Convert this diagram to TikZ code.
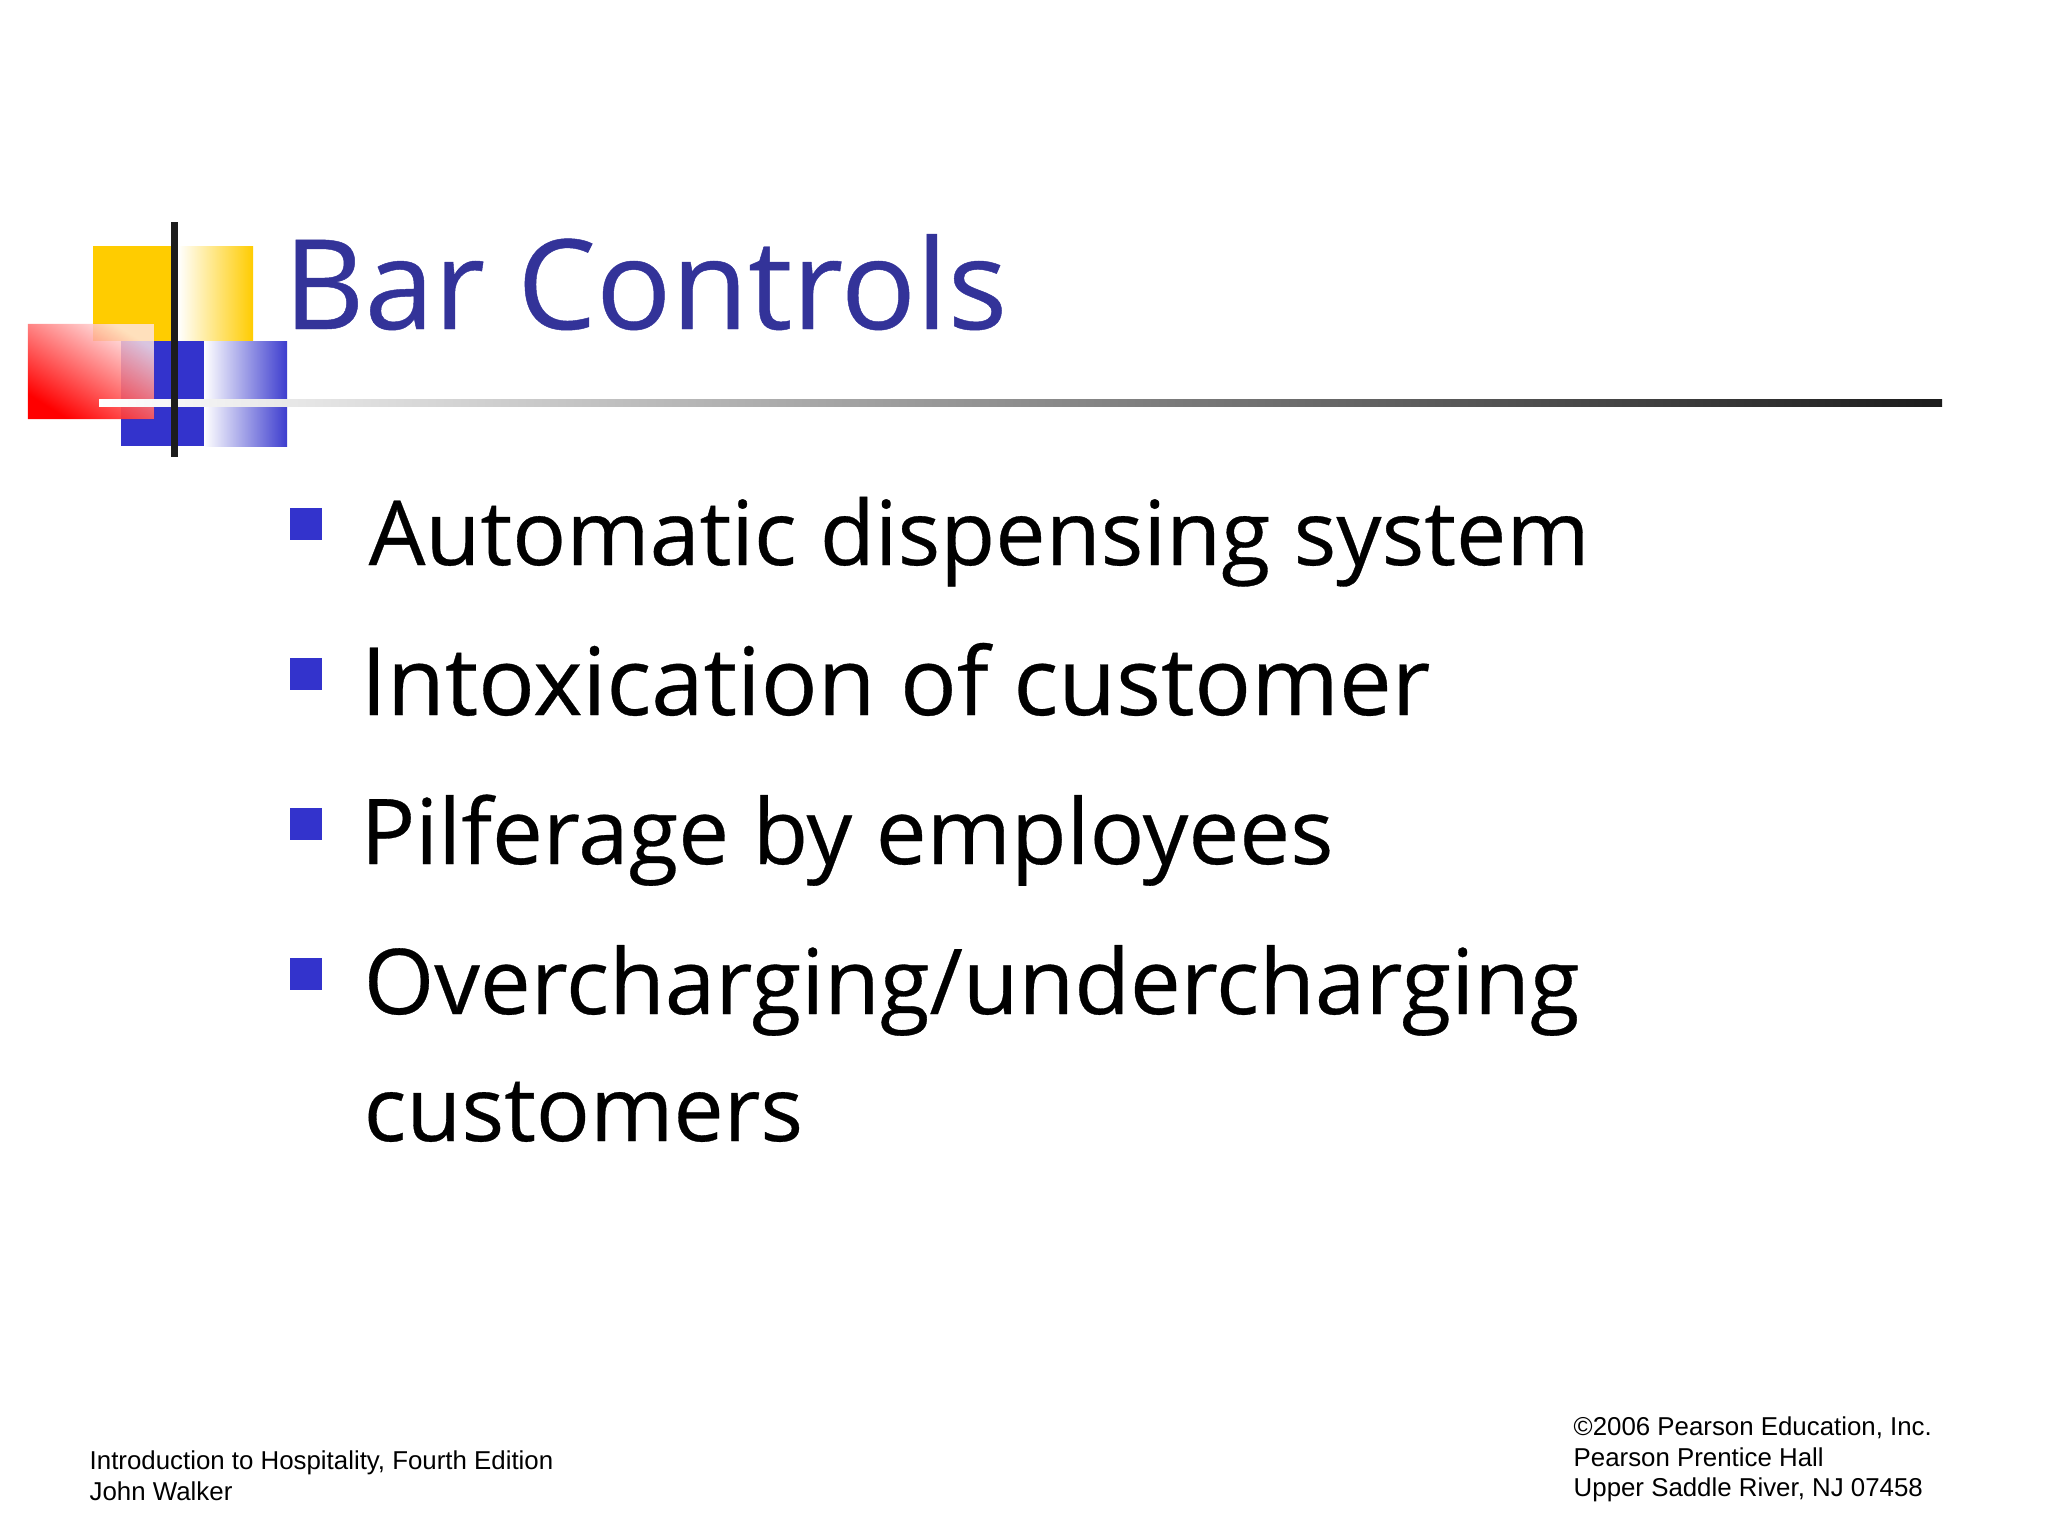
\documentclass[tikz,border=0pt]{standalone}
\usepackage{fontspec}
\setmainfont[FakeBold=0.35]{Open Sans}
\newfontfamily\footfont{Liberation Sans}
\usetikzlibrary{fadings}
\definecolor{titleblue}{HTML}{333399}
\definecolor{squareblue}{HTML}{3333CC}
\definecolor{squareyellow}{HTML}{FFCC00}
\definecolor{barblack}{HTML}{1C1C1C}
\tikzfading[name=redfade, left color=transparent!0, right color=transparent!92]
\begin{document}
\begin{tikzpicture}[
    x=0.01cm,
    y=-0.01cm,
    square/.style={
        rectangle,
        inner sep=0pt,
        outer sep=0pt,
        anchor=north west
    },
    yellowbox/.style={
        square,
        minimum width=0.8cm,
        minimum height=0.95cm
    },
    bluebox/.style={
        square,
        minimum width=0.83cm,
        minimum height=1.05cm
    },
    redbox/.style={
        square,
        minimum width=1.26cm,
        minimum height=0.95cm
    },
    bullet/.style={
        square,
        fill=squareblue,
        minimum width=0.32cm,
        minimum height=0.32cm
    },
    title/.style={
        anchor=base west,
        inner sep=0pt,
        text=titleblue,
        font=\fontsize{35.5}{40}\selectfont
    },
    item/.style={
        anchor=base west,
        inner sep=0pt,
        font=\fontsize{25.5}{30}\selectfont
    },
    footer/.style={
        anchor=north west,
        inner sep=0pt,
        align=left,
        font=\footfont\fontsize{7.35}{8.7}\selectfont
    }
]

% Page
\path[use as bounding box, fill=white] (0,0) rectangle (2048,1536);

% Logo squares
\node[yellowbox, fill=squareyellow] (yellowleft) at (93,246) {};
\node[yellowbox, left color=white, right color=squareyellow, minimum width=0.75cm] (yellowright) at (178,246) {};
\node[bluebox, fill=squareblue] (blueleft) at (121,341) {};
\node[bluebox, left color=white, right color=squareblue!95!white] (blueright) at (204,341) {};

% Red square
\node[redbox, fill=white, opacity=0.8] (redveil) at (28,324) {};
\node[redbox, fill=red, path fading=redfade, fading angle=50] (redsquare) at (28,324) {};

% Rule and bar
\node[square, left color=white, right color=barblack, minimum width=18.42cm, minimum height=0.07cm] (titlerule) at (99,399) {};
\node[square, fill=barblack, minimum width=0.07cm, minimum height=2.35cm] (logobar) at (171,222) {};

% Title
\node[title] (slidetitle) at (283,329) {Bar Controls};

% Bullets
\node[bullet] (bulletone) at (290,508) {};
\node[bullet] (bullettwo) at (290,658) {};
\node[bullet] (bulletthree) at (290,808) {};
\node[bullet] (bulletfour) at (290,958) {};

% Items
\node[item] (itemone) at (368,565) {Automatic dispensing system};
\node[item, font=\fontsize{26.8}{30}\selectfont] (itemtwo) at (360,715) {Intoxication of customer};
\node[item, font=\fontsize{25.8}{30}\selectfont] (itemthree) at (360,864) {Pilferage by employees};
\node[item, font=\fontsize{25.8}{30}\selectfont] (itemfour) at (363,1014) {Overcharging/undercharging};
\node[item] (itemfive) at (363,1141) {customers};

% Footers
\node[footer] (footleft) at (89,1450) {Introduction to Hospitality, Fourth Edition\\John Walker};
\node[footer] (footright) at (1573,1416) {©2006 Pearson Education, Inc.\\Pearson Prentice Hall\\Upper Saddle River, NJ 07458};

\end{tikzpicture}
\end{document}
